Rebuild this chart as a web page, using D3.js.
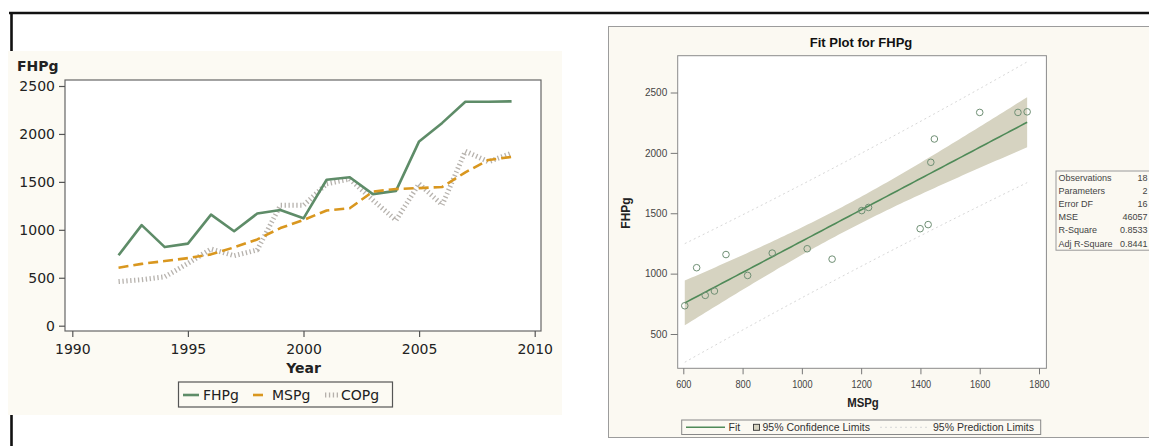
<!DOCTYPE html>
<html>
<head>
<meta charset="utf-8">
<script src="https://cdn.jsdelivr.net/npm/d3@7"></script>
<style>
  html, body { margin: 0; padding: 0; background: #ffffff; }
  svg { display: block; }
</style>
</head>
<body>
<svg id="chart" width="1149" height="446"></svg>
<script>
// ---- data ----
const years = [1992, 1993, 1994, 1995, 1996, 1997, 1998, 1999, 2000,
               2001, 2002, 2003, 2004, 2005, 2006, 2007, 2008, 2009];
const fhpg = [734, 1049, 820, 856, 1158, 985, 1170, 1206, 1120,
              1522, 1548, 1372, 1406, 1922, 2115, 2335, 2335, 2340];
const mspg = [605, 645, 674, 705, 744, 817, 900, 1018, 1102,
              1202, 1225, 1399, 1426, 1435, 1447, 1600, 1729, 1760];
const copg = [460, 480, 510, 650, 800, 730, 790, 1255, 1255,
              1480, 1530, 1310, 1100, 1480, 1260, 1820, 1710, 1800];

const yearTicks = [1990, 1995, 2000, 2005, 2010];
const valueTicks = [0, 500, 1000, 1500, 2000, 2500];
const fitXTicks = [600, 800, 1000, 1200, 1400, 1600, 1800];
const fitYTicks = [500, 1000, 1500, 2000, 2500];

const seriesNames = ["FHPg", "MSPg", "COPg"];
const statLabels = ["Observations", "Parameters", "Error DF", "MSE", "R-Square", "Adj R-Square"];
const statValues = ["18", "2", "16", "46057", "0.8533", "0.8441"];
const tCrit = 2.1199; // Student t, 0.975 quantile, 16 df

const svg = d3.select("#chart");
const LFONT = "'DejaVu Sans', Verdana, sans-serif";
const RFONT = "'Liberation Sans', Arial, Helvetica, sans-serif";

// horizontally condensed text helper
function narrow(sel, sx) {
  sel.each(function () {
    const t = d3.select(this);
    const x = +t.attr("x") || 0;
    t.attr("x", x / sx).attr("transform", `scale(${sx},1)`);
  });
}

// ================= left: time series =================
svg.append("rect").attr("x", 8).attr("y", 51).attr("width", 554).attr("height", 364)
  .attr("fill", "#fcfaf3");
svg.append("path")
  .attr("d", "M9,13H1149 M11.5,12V51 M11.5,415V446")
  .attr("stroke", "#111").attr("stroke-width", 2.6).attr("fill", "none");

const L = { left: 65, right: 541, top: 80, bottom: 331 };
const xL = d3.scaleLinear().domain([1990, 2010]).range([72.3, 534.7]);
const yL = d3.scaleLinear().domain([0, 2500]).range([325.7, 86]);

svg.append("rect").attr("x", L.left).attr("y", L.top)
  .attr("width", L.right - L.left).attr("height", L.bottom - L.top)
  .attr("fill", "#ffffff").attr("stroke", "#666").attr("stroke-width", 1.2);

const gxL = svg.append("g").attr("transform", `translate(0,${L.bottom})`)
  .call(d3.axisBottom(xL).tickValues(yearTicks).tickSize(6).tickPadding(7).tickFormat(d3.format("d")));
gxL.select(".domain").remove();
gxL.attr("font-family", LFONT).attr("font-size", 14);
gxL.selectAll("line").attr("stroke", "#555").attr("stroke-width", 1.2);
gxL.selectAll("text").attr("fill", "#222");

const gyL = svg.append("g").attr("transform", `translate(${L.left},0)`)
  .call(d3.axisLeft(yL).tickValues(valueTicks).tickSize(6).tickPadding(4).tickFormat(d3.format("d")));
gyL.select(".domain").remove();
gyL.attr("font-family", LFONT).attr("font-size", 14);
gyL.selectAll("line").attr("stroke", "#555").attr("stroke-width", 1.2);
gyL.selectAll("text").attr("fill", "#222");

svg.append("text").attr("x", 17).attr("y", 71).text("FHPg")
  .attr("font-family", LFONT).attr("font-size", 14).attr("font-weight", "bold").attr("fill", "#222");
svg.append("text").attr("x", (xL(1990) + xL(2010)) / 2).attr("y", 373).text("Year")
  .attr("text-anchor", "middle")
  .attr("font-family", LFONT).attr("font-size", 14).attr("font-weight", "bold").attr("fill", "#222");

const lineL = (vals) => d3.line().x((d, i) => xL(years[i])).y(d => yL(d))(vals);

const styles = {
  FHPg: { stroke: "#5e8c68", width: 2.6, dash: null, opacity: 1 },
  MSPg: { stroke: "#d9971f", width: 2.6, dash: "10,5", opacity: 1 },
  COPg: { stroke: "#a9a49f", width: 5, dash: "1.3,2.6", opacity: 0.85 }
};
const seriesData = { FHPg: fhpg, MSPg: mspg, COPg: copg };

["COPg", "FHPg", "MSPg"].forEach(name => {
  const s = styles[name];
  svg.append("path").attr("d", lineL(seriesData[name]))
    .attr("fill", "none").attr("stroke", s.stroke).attr("stroke-width", s.width)
    .attr("stroke-dasharray", s.dash).attr("opacity", s.opacity)
    .attr("stroke-linejoin", "round");
});

// legend
const lg = svg.append("g");
lg.append("rect").attr("x", 178.5).attr("y", 382).attr("width", 214).attr("height", 25)
  .attr("fill", "#fcfaf3").attr("stroke", "#555").attr("stroke-width", 1.2);
const legItems = [
  { name: "FHPg", x1: 183, x2: 199, tx: 203 },
  { name: "MSPg", x1: 253, x2: 268, tx: 272 },
  { name: "COPg", x1: 325, x2: 339, tx: 341 }
];
legItems.forEach(it => {
  const s = styles[it.name];
  lg.append("line").attr("x1", it.x1).attr("x2", it.x2).attr("y1", 395).attr("y2", 395)
    .attr("stroke", s.stroke).attr("stroke-width", s.width)
    .attr("stroke-dasharray", s.dash).attr("opacity", s.opacity);
  lg.append("text").attr("x", it.tx).attr("y", 400).text(it.name)
    .attr("font-family", LFONT).attr("font-size", 14).attr("fill", "#222");
});

// ================= right: fit plot =================
svg.append("rect").attr("x", 608.5).attr("y", 26.5).attr("width", 600).attr("height", 411)
  .attr("fill", "#fbf9f2").attr("stroke", "#9c9c9c").attr("stroke-width", 1);

const R = { left: 677.7, right: 1046.4, top: 55.7, bottom: 368.3 };
const xR = d3.scaleLinear().domain([600, 1800]).range([683.3, 1039]);
const yR = d3.scaleLinear().domain([500, 2500]).range([334, 92.5]);

svg.append("rect").attr("x", R.left).attr("y", R.top)
  .attr("width", R.right - R.left).attr("height", R.bottom - R.top)
  .attr("fill", "#ffffff").attr("stroke", "#8a8a8a").attr("stroke-width", 1);

// least-squares fit of FHPg on MSPg
const n = mspg.length;
const xbar = d3.mean(mspg), ybar = d3.mean(fhpg);
const sxx = d3.sum(mspg, v => (v - xbar) ** 2);
const sxy = d3.sum(mspg, (v, i) => (v - xbar) * (fhpg[i] - ybar));
const b1 = sxy / sxx, b0 = ybar - b1 * xbar;
const mse = +statValues[3];
const xmin = d3.min(mspg), xmax = d3.max(mspg);
const grid = d3.range(0, 101).map(i => xmin + (xmax - xmin) * i / 100);
const fitPts = grid.map(x => {
  const yhat = b0 + b1 * x;
  const h = 1 / n + (x - xbar) ** 2 / sxx;
  const ci = tCrit * Math.sqrt(mse * h);
  const pi = tCrit * Math.sqrt(mse * (1 + h));
  return { x, yhat, lcl: yhat - ci, ucl: yhat + ci, lpl: yhat - pi, upl: yhat + pi };
});

const gR = svg.append("g");
gR.append("path")
  .attr("d", d3.area().x(d => xR(d.x)).y0(d => yR(d.lcl)).y1(d => yR(d.ucl))(fitPts))
  .attr("fill", "#d6d3c1");
["lpl", "upl"].forEach(k => {
  gR.append("path")
    .attr("d", d3.line().x(d => xR(d.x)).y(d => yR(d[k]))(fitPts))
    .attr("fill", "none").attr("stroke", "#d7d7d7").attr("stroke-width", 1)
    .attr("stroke-dasharray", "2,3");
});
gR.append("path")
  .attr("d", d3.line().x(d => xR(d.x)).y(d => yR(d.yhat))(fitPts))
  .attr("fill", "none").attr("stroke", "#4f8a58").attr("stroke-width", 1.6);
gR.selectAll("circle").data(mspg).join("circle")
  .attr("cx", d => xR(d)).attr("cy", (d, i) => yR(fhpg[i])).attr("r", 3.3)
  .attr("fill", "none").attr("stroke", "#6f8f74").attr("stroke-width", 1);

const gxR = svg.append("g").attr("transform", `translate(0,${R.bottom})`)
  .call(d3.axisBottom(xR).tickValues(fitXTicks).tickSize(6).tickPadding(7).tickFormat(d3.format("d")));
gxR.select(".domain").remove();
gxR.attr("font-family", RFONT).attr("font-size", 10);
gxR.selectAll("line").attr("stroke", "#777");
gxR.selectAll("text").attr("fill", "#444");
narrow(gxR.selectAll("text"), 0.92);

const gyR = svg.append("g").attr("transform", `translate(${R.left},0)`)
  .call(d3.axisLeft(yR).tickValues(fitYTicks).tickSize(7).tickPadding(3.5).tickFormat(d3.format("d")));
gyR.select(".domain").remove();
gyR.attr("font-family", RFONT).attr("font-size", 10);
gyR.selectAll("line").attr("stroke", "#777");
gyR.selectAll("text").attr("fill", "#444");

svg.append("text").attr("x", 861).attr("y", 47).text("Fit Plot for FHPg")
  .attr("text-anchor", "middle").attr("font-family", RFONT).attr("font-size", 13)
  .attr("font-weight", "bold").attr("fill", "#111");
const xlab = svg.append("text").attr("x", 863).attr("y", 407).text("MSPg")
  .attr("text-anchor", "middle").attr("font-family", RFONT).attr("font-size", 12)
  .attr("font-weight", "bold").attr("fill", "#222");
narrow(xlab, 0.95);
svg.append("text").attr("transform", "translate(630,213) rotate(-90)").text("FHPg")
  .attr("text-anchor", "middle").attr("font-family", RFONT).attr("font-size", 12)
  .attr("font-weight", "bold").attr("fill", "#222");

// fit legend
const fl = svg.append("g");
fl.append("rect").attr("x", 681.7).attr("y", 420).attr("width", 359).attr("height", 14.5)
  .attr("fill", "#fbf9f2").attr("stroke", "#888");
fl.append("line").attr("x1", 686).attr("x2", 725).attr("y1", 427.3).attr("y2", 427.3)
  .attr("stroke", "#4f8a58").attr("stroke-width", 1.6);
fl.append("text").attr("x", 728.5).attr("y", 431).text("Fit");
fl.append("rect").attr("x", 753.5).attr("y", 424.3).attr("width", 6).attr("height", 6)
  .attr("fill", "#d6d3c1").attr("stroke", "#333").attr("stroke-width", 0.9);
fl.append("text").attr("x", 762.5).attr("y", 431).text("95% Confidence Limits");
fl.append("line").attr("x1", 880).attr("x2", 930).attr("y1", 427.3).attr("y2", 427.3)
  .attr("stroke", "#d7d7d7").attr("stroke-width", 1).attr("stroke-dasharray", "2,3");
fl.append("text").attr("x", 933).attr("y", 431).text("95% Prediction Limits");
fl.selectAll("text").attr("font-family", RFONT).attr("font-size", 10.5).attr("fill", "#333");

// statistics table
const st = svg.append("g");
const rowH = 13.2, tTop = 171;
st.append("rect").attr("x", 1056).attr("y", tTop).attr("width", 110).attr("height", rowH * 6)
  .attr("fill", "#fbf9f2").attr("stroke", "#999");
statLabels.forEach((lab, i) => {
  const yb = tTop + rowH * i + 9.6;
  st.append("text").attr("x", 1058.5).attr("y", yb).text(lab)
    .attr("font-family", RFONT).attr("font-size", 9).attr("fill", "#444");
  st.append("text").attr("x", 1147.5).attr("y", yb).text(statValues[i]).attr("text-anchor", "end")
    .attr("font-family", RFONT).attr("font-size", 9).attr("fill", "#444");
});
</script>
</body>
</html>
